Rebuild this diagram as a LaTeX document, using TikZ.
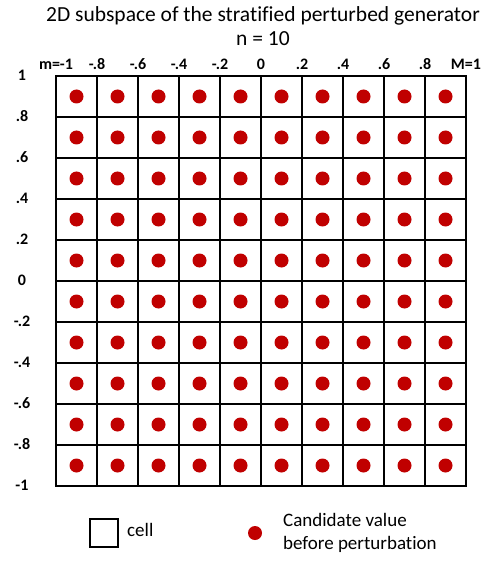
\documentclass[tikz,border=0pt]{standalone}
\usepackage{fontspec}
\setmainfont[Ligatures=NoCommon]{Carlito}
\usetikzlibrary{positioning}
\definecolor{candred}{RGB}{192,0,0}

\begin{document}
\begin{tikzpicture}[
  x=1pt, y=-1pt,
  cellbox/.style={draw, line width=1.5pt, minimum size=41pt, inner sep=0pt},
  cand/.style={circle, fill=candred, minimum size=14pt, inner sep=0pt},
  tick/.style={font=\bfseries\fontsize{16}{18}\selectfont, inner sep=0pt},
  legtxt/.style={font=\fontsize{19}{23}\selectfont, align=left, inner sep=0pt}
]
\useasboundingbox (0,0) rectangle (484,561);

\node[font=\fontsize{21.5}{25}\selectfont] (title) at (263,16) {2D subspace of the stratified perturbed generator};
\node[font=\fontsize{21.5}{25}\selectfont] (nval) at (263,39) {n = 10};

% grid of cells with the candidate in each centre
\foreach \i in {0,...,9}
  \foreach \j in {0,...,9} {
    \node[cellbox] (c-\i-\j) at (76.5+41*\i, 96.5+41*\j) {};
    \node[cand] (d-\i-\j) at (c-\i-\j.center) {};
  }

\foreach \lab [count=\k from 0] in {m=-1,-.8,-.6,-.4,-.2,0,.2,.4,.6,.8,M=1}
  \node[tick] (xt-\k) at (56+41*\k, 64) {\lab};
\foreach \lab [count=\k from 0] in {1,.8,.6,.4,.2,0,-.2,-.4,-.6,-.8,-1}
  \node[tick] (yt-\k) at (22, 75+41*\k) {\lab};

% legend
\node[draw, line width=1.5pt, minimum size=28pt, inner sep=0pt] (legcell) at (104,533) {};
\node[legtxt, anchor=west] (legcelltxt) at (127,530) {cell};
\node[cand] (legdot) at (255,533) {};
\node[legtxt, anchor=west] (legdottxt) at (283,533) {Candidate value\\before perturbation};
\end{tikzpicture}
\end{document}
